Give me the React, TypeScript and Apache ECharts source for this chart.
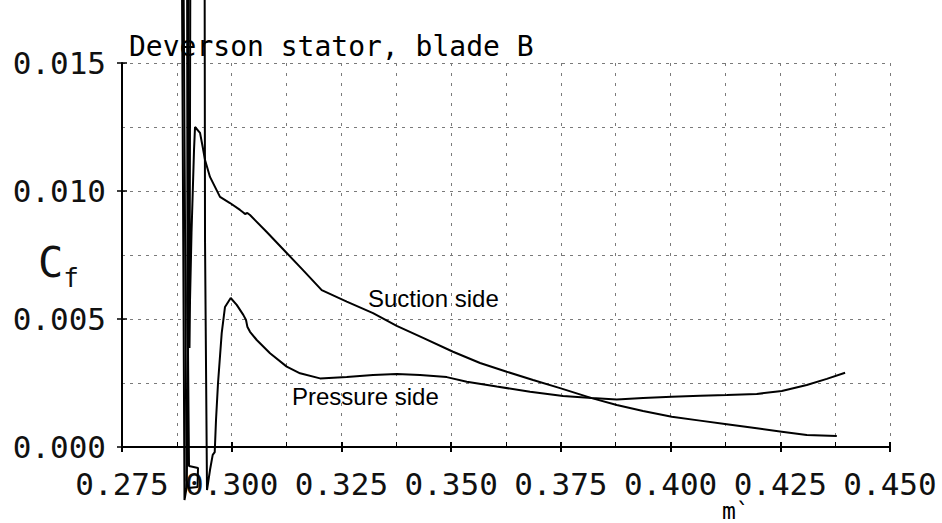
import React, { useEffect, useRef } from "react";
import * as echarts from "echarts";

// Suction side: m' values and Cf values (leading-edge excursions included)
const SUCTION_X = [
  0.2889, 0.2897, 0.29015, 0.29221, 0.29232, 0.29027, 0.28993, 0.28981, 0.29061, 0.29038,
  0.2905, 0.29084, 0.29141, 0.29164, 0.29278, 0.29339, 0.29392, 0.29505, 0.29733, 0.29961,
  0.30189, 0.30264, 0.30303, 0.30356, 0.30417, 0.30798, 0.31253, 0.31625, 0.32051, 0.32621,
  0.3322, 0.3376, 0.3436, 0.35043, 0.35659, 0.36267, 0.36867, 0.37482, 0.38204, 0.38774,
  0.39373, 0.40027, 0.40672, 0.41281, 0.41964, 0.42534, 0.43104, 0.43788,
];
const SUCTION_Y = [
  0.022, -0.0013, -0.0016, -0.00156, -0.00082, -0.00074, 0.00574, 0.022, 0.022, 0.00387,
  0.00574, 0.00836, 0.0116, 0.0125, 0.01227, 0.01172, 0.01121, 0.01055, 0.00977, 0.00953,
  0.00926, 0.00916, 0.0091, 0.00914, 0.00906, 0.0084, 0.00758, 0.00691, 0.00613, 0.00568,
  0.00523, 0.00473, 0.00426, 0.00372, 0.00328, 0.00294, 0.00262, 0.0023, 0.00191, 0.00164,
  0.00141, 0.00118, 0.00103, 0.00089, 0.00073, 0.0006, 0.00047, 0.00043,
];

// Pressure side
const PRESSURE_X = [
  0.28856, 0.28924, 0.2897, 0.29004, 0.29015, 0.2938, 0.29392, 0.29437, 0.29505, 0.29567,
  0.29613, 0.29642, 0.29688, 0.29772, 0.29847, 0.29977, 0.30114, 0.30264, 0.30326, 0.30356,
  0.30417, 0.3057, 0.30873, 0.31253, 0.31557, 0.32012, 0.32621, 0.3322, 0.3376, 0.34291,
  0.349, 0.35356, 0.36039, 0.36798, 0.3755, 0.38204, 0.38774, 0.39373, 0.40027, 0.40672,
  0.41281, 0.41964, 0.42534, 0.43104, 0.4356, 0.43977,
];
const PRESSURE_Y = [
  0.022, -0.00207, -0.0016, 0.0012, 0.022, 0.022, 0.008, -0.00168, -0.0009, -0.00031,
  -0.0002, 0.00105, 0.0025, 0.00445, 0.00547, 0.00582, 0.00555, 0.00516, 0.00496, 0.0047,
  0.0045, 0.00418, 0.00366, 0.00314, 0.00288, 0.00268, 0.00273, 0.00281, 0.00285, 0.00281,
  0.00273, 0.00255, 0.00236, 0.00216, 0.00199, 0.00191, 0.00186, 0.00191, 0.00196, 0.002,
  0.00203, 0.00207, 0.00219, 0.00242, 0.00266, 0.0029,
];

const X_MIN = 0.275;
const X_MAX = 0.45;
const X_STEP = 0.025;
const Y_MIN = 0;
const Y_MAX = 0.015;
const Y_STEP = 0.005;

const TITLE = "Deverson stator, blade B";
const SUCTION_LABEL = "Suction side";
const PRESSURE_LABEL = "Pressure side";
const X_NAME = "m`";

const MONO = "DejaVu Sans Mono";
const SANS = "Liberation Sans, Arial, sans-serif";
const GRID_COLOR = "#7a7a7a";

function pairs(xs: number[], ys: number[]) {
  return xs.map((x, i) => [x, ys[i]]);
}

export default function App() {
  const ref = useRef<HTMLDivElement>(null);

  useEffect(() => {
    if (!ref.current) return;
    const chart = echarts.init(ref.current, undefined, { renderer: "svg" });
    const lineSeries = (name: string, data: number[][]) => ({
      name,
      type: "line",
      data,
      showSymbol: false,
      symbol: "none",
      clip: false,
      z: 20,
      zlevel: 1,
      lineStyle: { color: "#000", width: 2 },
      xAxisIndex: 0,
      yAxisIndex: 0,
    });
    chart.setOption({
      animation: false,
      backgroundColor: "#fff",
      grid: { left: 122, right: 52, top: 63, bottom: 76, containLabel: false },
      xAxis: [
        {
          type: "value",
          min: X_MIN,
          max: X_MAX,
          interval: X_STEP,
          position: "bottom",
          axisLine: { show: true, lineStyle: { color: "#000", width: 2 } },
          axisTick: { show: true, inside: false, length: 5, lineStyle: { color: "#000", width: 2 } },
          minorTick: { show: false, splitNumber: 2 },
          axisLabel: {
            formatter: (v: number) => v.toFixed(3),
            fontFamily: MONO,
            fontSize: 31,
            color: "#111",
            margin: 21,
          },
          splitLine: { show: true, lineStyle: { color: GRID_COLOR, width: 1, type: [3, 7] } },
          minorSplitLine: { show: true, lineStyle: { color: GRID_COLOR, width: 1, type: [3, 7] } },
        },
        {
          type: "value",
          min: X_MIN,
          max: X_MAX,
          interval: X_STEP,
          position: "bottom",
          offset: 0,
          axisLine: { show: false },
          axisTick: { show: true, inside: true, length: 5, lineStyle: { color: "#000", width: 2 } },
          minorTick: { show: true, splitNumber: 2, length: 5, lineStyle: { color: "#000", width: 1 } },
          axisLabel: { show: false },
          splitLine: { show: false },
        },
      ],
      yAxis: [
        {
          type: "value",
          min: Y_MIN,
          max: Y_MAX,
          interval: Y_STEP,
          position: "left",
          axisLine: { show: true, lineStyle: { color: "#000", width: 2 } },
          axisTick: { show: true, inside: false, length: 5, lineStyle: { color: "#000", width: 1.5 } },
          minorTick: { show: false, splitNumber: 2 },
          axisLabel: {
            formatter: (v: number) => v.toFixed(3),
            fontFamily: MONO,
            fontSize: 31,
            color: "#111",
            margin: 16,
          },
          splitLine: { show: true, lineStyle: { color: GRID_COLOR, width: 1, type: [3, 5] } },
          minorSplitLine: { show: true, lineStyle: { color: GRID_COLOR, width: 1, type: [3, 5] } },
        },
        {
          type: "value",
          min: Y_MIN,
          max: Y_MAX,
          interval: Y_STEP,
          position: "left",
          offset: 0,
          axisLine: { show: false },
          axisTick: { show: true, inside: true, length: 5, lineStyle: { color: "#000", width: 1.5 } },
          axisLabel: { show: false },
          splitLine: { show: false },
        },
      ],
      series: [
        lineSeries("Suction side", pairs(SUCTION_X, SUCTION_Y)),
        lineSeries("Pressure side", pairs(PRESSURE_X, PRESSURE_Y)),
      ],
      graphic: [
        {
          type: "text",
          x: 129,
          y: 46,
          z: 10,
          style: {
            text: TITLE,
            fontFamily: MONO,
            fontSize: 28,
            fill: "#000",
            verticalAlign: "middle",
            align: "left",
          },
        },
        {
          type: "text",
          x: 38,
          y: 262,
          z: 10,
          style: {
            text: "{c|C}{f|f}",
            rich: {
              c: { fontFamily: MONO, fontSize: 42, fill: "#111", verticalAlign: "bottom" },
              f: { fontFamily: MONO, fontSize: 26, fill: "#111", verticalAlign: "bottom", padding: [0, 0, -8, 0] },
            },
            verticalAlign: "middle",
            align: "left",
          },
        },
        {
          type: "text",
          x: 722,
          y: 511,
          z: 10,
          style: {
            text: X_NAME,
            fontFamily: MONO,
            fontSize: 23,
            fill: "#000",
            verticalAlign: "middle",
            align: "left",
          },
        },
        {
          type: "text",
          x: 368,
          y: 298,
          z: 10,
          style: {
            text: SUCTION_LABEL,
            fontFamily: SANS,
            fontSize: 24,
            fill: "#000",
            verticalAlign: "middle",
            align: "left",
          },
        },
        {
          type: "text",
          x: 292,
          y: 396,
          z: 10,
          style: {
            text: PRESSURE_LABEL,
            fontFamily: SANS,
            fontSize: 24,
            fill: "#000",
            verticalAlign: "middle",
            align: "left",
          },
        },
      ],
    });
    return () => chart.dispose();
  }, []);

  return (
    <div
      ref={ref}
      style={{ position: "absolute", left: 0, top: 0, width: 942, height: 523, background: "#fff" }}
    />
  );
}
